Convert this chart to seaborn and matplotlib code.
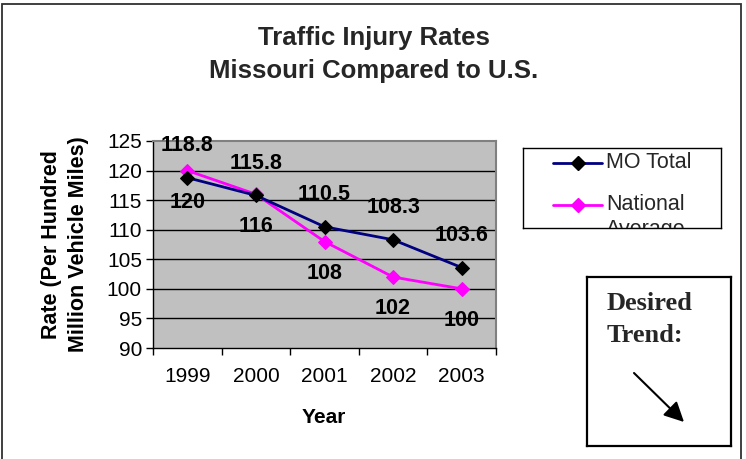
import matplotlib
matplotlib.use("Agg")
import matplotlib.pyplot as plt
import seaborn as sns
import pandas as pd
from matplotlib.lines import Line2D
from matplotlib.patches import Rectangle

# --- data ---
years = ["1999", "2000", "2001", "2002", "2003"]
mo_total = [118.8, 115.8, 110.5, 108.3, 103.6]
national = [120, 116, 108, 102, 100]
y_ticks = [90, 95, 100, 105, 110, 115, 120, 125]

NAVY = "#000080"
MAGENTA = "#FF00FF"

sns.set_theme(style="white")
plt.rcParams["font.family"] = ["Liberation Sans", "DejaVu Sans"]

W, H = 746, 459
fig = plt.figure(figsize=(W / 100, H / 100), dpi=100)

# outer chart border (bottom edge is cut off in the original)
fig.patches.append(Rectangle((2 / W, -0.02), 739 / W, 1.02 - 4 / H, transform=fig.transFigure,
                             fill=False, edgecolor="#303030", lw=1.3))

ax = fig.add_axes([153 / W, 1 - 348 / H, 343 / W, 207 / H])
ax.set_facecolor("#C0C0C0")

mo_df = pd.DataFrame({"Year": years, "Rate": mo_total})
nat_df = pd.DataFrame({"Year": years, "Rate": national})

sns.lineplot(data=mo_df, x="Year", y="Rate", ax=ax, color=NAVY, lw=2, marker="D",
             markersize=7, markerfacecolor="black", markeredgecolor="black", zorder=4)
sns.lineplot(data=nat_df, x="Year", y="Rate", ax=ax, color=MAGENTA, lw=2, marker="D",
             markersize=7, markerfacecolor=MAGENTA, markeredgecolor=MAGENTA, zorder=3)

# value labels: MO above, national below
for i, v in enumerate(mo_total):
    ax.annotate(f"{v:g}", (i, v), xytext=(0, 23), textcoords="offset points",
                ha="center", va="center", fontsize=15.5, fontweight="bold", color="black")
for i, v in enumerate(national):
    ax.annotate(f"{v:g}", (i, v), xytext=(0, -23), textcoords="offset points",
                ha="center", va="center", fontsize=15.5, fontweight="bold", color="black")

ax.set_xlim(-0.5, len(years) - 0.5)
ax.set_ylim(90, 125)
ax.set_yticks(y_ticks)
ax.set_yticklabels([str(t) for t in y_ticks], fontsize=15)
ax.set_xticks(range(len(years)))
ax.set_xticklabels(years, fontsize=15)
ax.set_xticks([i - 0.5 for i in range(len(years) + 1)], minor=True)
ax.tick_params(axis="x", which="major", length=0, pad=14, colors="black")
ax.tick_params(axis="x", which="minor", length=5, width=1, direction="out", color="black", bottom=True)
ax.tick_params(axis="y", which="major", length=5, width=1, direction="out", color="black",
               left=True, pad=3, labelcolor="black")

for t in y_ticks[1:-1]:
    ax.axhline(t, color="black", lw=1, zorder=1)

for side in ["left", "bottom"]:
    ax.spines[side].set_color("black")
    ax.spines[side].set_linewidth(1)
for side in ["top", "right"]:
    ax.spines[side].set_color("#808080")
    ax.spines[side].set_linewidth(1.5)

ax.set_xlabel("Year", fontsize=15, fontweight="bold", color="black")
ax.xaxis.set_label_coords((324 - 153) / 343, -(408 - 348) / 207)
ax.set_ylabel("Rate (Per Hundred\nMillion Vehicle Miles)", fontsize=15.5, fontweight="bold",
              color="black", linespacing=1.35)
ax.yaxis.set_label_coords(-(153 - 89) / 343, 0.5)

fig.text(374 / W, 1 - 38 / H, "Traffic Injury Rates", ha="center", va="center",
         fontsize=18.5, fontweight="bold")
fig.text(374 / W, 1 - 71 / H, "Missouri Compared to U.S.", ha="center", va="center",
         fontsize=18.5, fontweight="bold")

# legend box (text of second entry is clipped like the original)
lax = fig.add_axes([523 / W, 1 - 228 / H, 198 / W, 80 / H])
lax.set_xlim(0, 198)
lax.set_ylim(80, 0)
lax.set_xticks([])
lax.set_yticks([])
lax.set_facecolor("white")
for s in lax.spines.values():
    s.set_color("black")
    s.set_linewidth(1)
lax.add_line(Line2D([30, 54.5, 79], [15, 15, 15], color=NAVY, lw=2, marker="D", markersize=7,
                    markevery=[1], markerfacecolor="black", markeredgecolor="black"))
lax.add_line(Line2D([30, 54.5, 79], [57, 57, 57], color=MAGENTA, lw=2, marker="D", markersize=7,
                    markevery=[1], markerfacecolor=MAGENTA, markeredgecolor=MAGENTA))
lax.text(83, 15, "MO Total", va="center", ha="left", fontsize=15.5, clip_on=True)
lax.text(83, 57, "National", va="center", ha="left", fontsize=15.5, clip_on=True)
lax.text(83, 82, "Average", va="center", ha="left", fontsize=15.5, clip_on=True)

# "Desired Trend" box
bax = fig.add_axes([587 / W, 1 - 446 / H, 144 / W, 169 / H])
bax.set_xlim(0, 144)
bax.set_ylim(169, 0)
bax.set_xticks([])
bax.set_yticks([])
bax.set_facecolor("white")
for s in bax.spines.values():
    s.set_color("black")
    s.set_linewidth(1.6)
bax.text(20, 26, "Desired", ha="left", va="center", fontsize=19, fontweight="bold",
         family=["Liberation Serif", "DejaVu Serif"])
bax.text(20, 59, "Trend:", ha="left", va="center", fontsize=19, fontweight="bold",
         family=["Liberation Serif", "DejaVu Serif"])
bax.annotate("", xy=(97, 145), xytext=(47, 96),
             arrowprops=dict(arrowstyle="-|>", mutation_scale=30, lw=1.5, color="black",
                             shrinkA=0, shrinkB=0))

fig.savefig("out.png", dpi=100)
